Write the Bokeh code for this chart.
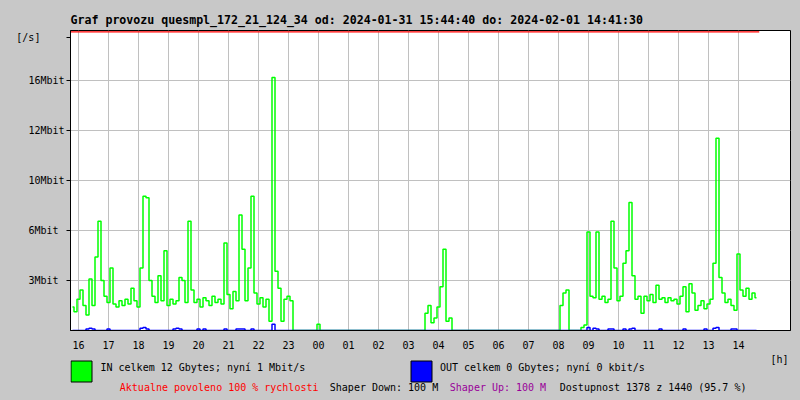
import numpy as np
from bokeh.plotting import figure
from bokeh.layouts import column
from bokeh.models import Range1d, FixedTicker, Title
from bokeh.core.properties import value
from bokeh.embed import file_html
from bokeh.resources import INLINE

BG = "#c8c8c8"
FONT = "DejaVu Sans Mono"

# ---- axis data ----
hour_ticks = list(range(0, 23))          # hours after 16:00
hour_labels = ["16", "17", "18", "19", "20", "21", "22", "23", "00", "01", "02", "03",
               "04", "05", "06", "07", "08", "09", "10", "11", "12", "13", "14"]
y_ticks = [3.2, 6.4, 9.6, 12.8, 16.0]
y_labels = ["3Mbit", "6Mbit", "10Mbit", "12Mbit", "16Mbit"]
unit_tick = 18.75
unit_label = "[/s]"

t_start = -0.2556   # 2024-01-31 15:44:40 (hours after 16:00)
t_end = 22.6917     # 2024-02-01 14:41:30
limit_mbit = 19.11

title_text = "Graf provozu quesmpl_172_21_124_34 od: 2024-01-31 15:44:40 do: 2024-02-01 14:41:30"
in_text = "IN celkem 12 Gbytes; nyní 1 Mbit/s"
out_text = "OUT celkem 0 Gbytes; nyní 0 kbit/s"
footer_texts = ["Aktualne povoleno 100 % rychlosti", "Shaper Down: 100 M",
                "Shaper Up: 100 M", "Dostupnost 1378 z 1440 (95.7 %)"]

# ---- traffic samples (6-minute steps, Mbit/s) ----
sample_hours = np.round(np.arange(-0.2, 22.65, 0.1), 1)

in_pre = [1.5, 1.2]
in_h00 = [2.0, 2.6, 1.6, 1.0, 3.3, 1.6, 4.7, 7.0, 3.2, 2.2]
in_h01 = [1.8, 4.0, 1.7, 1.5, 1.9, 1.6, 2.0, 1.7, 2.7, 1.9]
in_h02 = [1.5, 4.0, 8.6, 8.5, 3.2, 2.2, 1.8, 3.5, 1.9, 5.1]
in_h03 = [1.6, 2.0, 1.7, 1.9, 3.4, 3.2, 1.8, 7.0, 2.6, 1.8]
in_h04 = [2.0, 1.5, 2.1, 1.9, 1.6, 2.2, 1.8, 2.0, 1.7, 5.6]
in_h05 = [2.3, 1.4, 2.5, 1.9, 7.4, 5.2, 1.9, 4.0, 8.6, 2.4]
in_h06 = [1.7, 2.1, 1.5, 2.0, 0.6, 16.2, 3.8, 2.7, 0.6, 2.0]
in_h07 = [2.2, 1.9, 0, 0, 0, 0, 0, 0, 0, 0]
in_h08 = [0.4, 0, 0, 0, 0, 0, 0, 0, 0, 0]
in_h09 = [0, 0, 0, 0, 0, 0, 0, 0, 0, 0]
in_h10 = [0, 0, 0, 0, 0, 0, 0, 0, 0, 0]
in_h11 = [0, 0, 0, 0, 0, 0, 1.1, 1.6, 0.5, 0.8]
in_h12 = [1.5, 2.8, 5.2, 0.6, 0.8, 0, 0, 0, 0, 0]
in_h13 = [0, 0, 0, 0, 0, 0, 0, 0, 0, 0]
in_h14 = [0, 0, 0, 0, 0, 0, 0, 0, 0, 0]
in_h15 = [0, 0, 0, 0, 0, 0, 0, 0, 0, 0]
in_h16 = [0, 1.6, 2.4, 2.6, 0, 0, 0, 0, 0.2, 0.35]
in_h17 = [6.3, 2.2, 2.1, 6.3, 2.0, 2.2, 1.8, 2.0, 7.0, 4.0]
in_h18 = [1.9, 2.2, 4.3, 5.1, 8.2, 3.5, 2.0, 2.2, 1.1, 2.2]
in_h19 = [1.9, 2.3, 1.8, 2.9, 2.0, 2.1, 1.8, 2.1, 1.9, 2.0]
in_h20 = [1.7, 2.2, 2.8, 1.2, 3.0, 2.4, 1.3, 1.6, 1.9, 1.4]
in_h21 = [1.7, 2.0, 4.3, 12.3, 3.4, 2.4, 1.8, 2.0, 1.6, 1.3]
in_h22 = [4.9, 2.6, 2.2, 2.7, 2.0, 2.4, 2.1]

out_pre = [0, 0]
out_h00 = [0, 0, 0, 0.1, 0.15, 0.1, 0, 0, 0, 0]
out_h01 = [0.1, 0, 0, 0, 0, 0, 0, 0, 0, 0]
out_h02 = [0, 0.15, 0.2, 0.1, 0, 0, 0, 0, 0, 0]
out_h03 = [0, 0, 0.1, 0.15, 0.1, 0, 0, 0, 0, 0]
out_h04 = [0.1, 0, 0.1, 0, 0, 0, 0, 0, 0, 0.1]
out_h05 = [0, 0, 0, 0.1, 0.1, 0.1, 0, 0, 0.1, 0]
out_h06 = [0, 0, 0, 0, 0, 0.4, 0, 0, 0, 0]
out_zero = [0, 0, 0, 0, 0, 0, 0, 0, 0, 0]
out_h17 = [0.2, 0, 0.15, 0.1, 0, 0, 0, 0.1, 0.1, 0]
out_h18 = [0, 0, 0.1, 0, 0.1, 0.15, 0, 0, 0, 0]
out_h19 = [0, 0, 0, 0, 0.1, 0, 0, 0, 0, 0]
out_h20 = [0, 0, 0.1, 0, 0, 0, 0, 0, 0, 0.1]
out_h21 = [0, 0, 0.15, 0.2, 0, 0, 0, 0, 0.1, 0.1]
out_h22 = [0, 0, 0, 0, 0, 0, 0]

in_mbit = (in_pre + in_h00 + in_h01 + in_h02 + in_h03 + in_h04 + in_h05 + in_h06 + in_h07
           + in_h08 + in_h09 + in_h10 + in_h11 + in_h12 + in_h13 + in_h14 + in_h15 + in_h16
           + in_h17 + in_h18 + in_h19 + in_h20 + in_h21 + in_h22)
out_mbit = (out_pre + out_h00 + out_h01 + out_h02 + out_h03 + out_h04 + out_h05 + out_h06
            + out_zero * 10 + out_h17 + out_h18 + out_h19 + out_h20 + out_h21 + out_h22)
n = min(len(sample_hours), len(in_mbit), len(out_mbit))
sample_hours = sample_hours[:n]
in_mbit = in_mbit[:n]
out_mbit = out_mbit[:n]

# ---------------- main chart ----------------
p = figure(width=800, height=354, output_backend="svg", toolbar_location=None,
           x_range=Range1d(-8 / 30, 24 - 8 / 30), y_range=Range1d(0, 19.2),
           min_border_left=70, min_border_right=10, min_border_top=30, min_border_bottom=24,
           background_fill_color="white", border_fill_color=BG,
           outline_line_color="black", outline_line_width=1)

p.add_layout(Title(text=title_text, align="left", text_font=FONT, text_font_size="11.6px",
                   text_font_style="bold", text_color="black", standoff=7), "above")

p.xaxis.ticker = FixedTicker(ticks=hour_ticks)
p.xaxis.major_label_overrides = {t: l for t, l in zip(hour_ticks, hour_labels)}
p.xaxis.major_tick_out = 0
p.xaxis.major_tick_in = 0
p.xaxis.minor_tick_out = 0
p.xaxis.minor_tick_in = 0
p.xaxis.major_label_standoff = 10
p.xaxis.axis_line_color = "black"
p.xaxis.major_label_text_font = FONT
p.xaxis.major_label_text_font_size = "10px"
p.xaxis.major_label_text_color = "black"

y_overrides = {t: l.ljust(6, "\u00a0") for t, l in zip(y_ticks, y_labels)}
y_overrides[unit_tick] = unit_label + "\u00a0" * 4
p.yaxis.ticker = FixedTicker(ticks=y_ticks + [unit_tick])
p.yaxis.major_label_overrides = y_overrides
p.yaxis.major_tick_out = 4
p.yaxis.major_tick_in = 0
p.yaxis.minor_tick_out = 0
p.yaxis.minor_tick_in = 0
p.yaxis.major_tick_line_color = "black"
p.yaxis.major_label_standoff = 2
p.yaxis.axis_line_color = "black"
p.yaxis.major_label_text_font = FONT
p.yaxis.major_label_text_font_size = "10px"
p.yaxis.major_label_text_color = "black"

p.xgrid.ticker = FixedTicker(ticks=hour_ticks)
p.ygrid.ticker = FixedTicker(ticks=y_ticks)
p.xgrid.grid_line_color = "#c0c0c0"
p.ygrid.grid_line_color = "#c0c0c0"

p.step(sample_hours, in_mbit, mode="center", line_color="#00ff00", line_width=1.5)
p.step(sample_hours, out_mbit, mode="center", line_color="#0000ff", line_width=1.5)
p.line([t_start, t_end], [limit_mbit, limit_mbit], line_color="#ff0000", line_width=1.3)

# ---------------- legend / footer strip (frame aligned with chart: x 70..790) ----------------
leg = figure(width=800, height=46, output_backend="svg", toolbar_location=None,
             x_range=Range1d(70, 790), y_range=Range1d(46, 0),
             x_axis_location=None, y_axis_location=None, min_border=0,
             background_fill_color=BG, border_fill_color=BG, outline_line_color=None)
leg.grid.visible = False

leg.quad(left=[70.5, 410.5], right=[91.5, 431.5], top=[6.5, 6.5], bottom=[27.5, 27.5],
         fill_color=["#00ff00", "#0000ff"], line_color="black", line_width=1)

leg.text(x=[100, 439.5], y=[13, 13], text=[in_text, out_text],
         text_font=value(FONT), text_font_size="10px", text_color="black",
         text_align="left", text_baseline="middle")
leg.text(x=[119.3, 329.3, 449.3, 559.3], y=[33, 33, 33, 33], text=footer_texts,
         text_font=value(FONT), text_font_size="10px",
         text_color=["#ff0000", "black", "#990099", "black"],
         text_align="left", text_baseline="middle")
leg.text(x=[770], y=[4.5], text=["[h]"], text_font=value(FONT), text_font_size="10px",
         text_color="black", text_align="left", text_baseline="middle")

layout = column(p, leg, spacing=0)
html = file_html(layout, INLINE, title="Graf provozu")
html = html.replace("<head>", "<head><style>body{background:%s;}</style>" % BG, 1)
open("out.html", "w").write(html)
